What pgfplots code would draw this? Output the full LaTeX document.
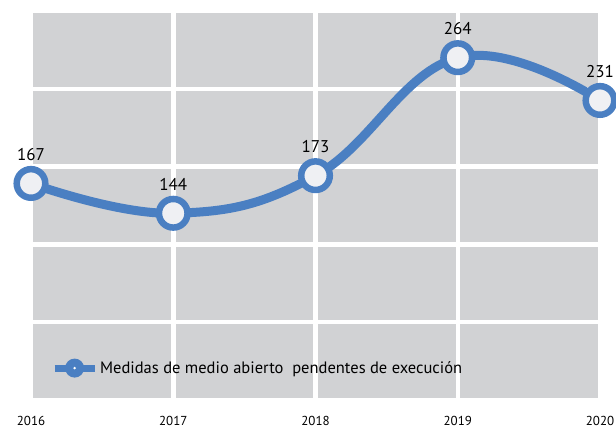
\documentclass[border=0pt]{standalone}
\usepackage{pgfplots}
\pgfplotsset{compat=1.18}
\usepackage{fontspec}
\setmainfont{PT Sans}
\definecolor{bg}{HTML}{D1D2D4}
\definecolor{ln}{HTML}{4A7FC2}
\definecolor{mk}{HTML}{EFF0F3}
\begin{document}
\begin{tikzpicture}[x=1pt,y=1pt]
\clip (0,0) rectangle (616,427);
\begin{axis}[
  scale only axis, width=569pt, height=389pt,
  anchor=south west, at={(31pt,27pt)},
  xmin=2016, xmax=2020, ymin=0, ymax=300,
  xtick={2016,2017,2018,2019,2020}, ytick={0,60,...,300},
  yticklabels={},
  xticklabel style={font=\fontsize{13}{13}\selectfont, yshift=-13pt, /pgf/number format/1000 sep={}},
  /pgf/number format/assume math mode=true,
  axis background/.style={fill=bg},
  axis line style={draw=none},
  major tick length=0pt,
  grid=major, grid style={white, line width=4.5pt},
  clip=false,
  legend style={at={(0.035,0.082)}, anchor=west, draw=none, fill=none,
    font=\fontsize{16.5}{16.5}\selectfont, inner sep=0pt},
]
\addplot[ln, line width=9pt, smooth, tension=0.7, mark=*, mark size=14.3pt,
  mark options={fill=mk, draw=ln, line width=6.5pt},
  nodes near coords, point meta=explicit symbolic, forget plot,
  every node near coord/.append style={font=\fontsize{17}{17}\selectfont, black, anchor=south, inner sep=0pt, yshift=19.5pt}]
  coordinates {(2016,167)[167] (2017,144)[144] (2018,173)[173] (2019,264)[264] (2020,231)[231]};
\addlegendimage{no markers, legend image code/.code={
    \path[draw=ln, line width=7pt] (0pt,0pt) -- (40pt,0pt);
    \path[fill=ln, draw=none] (20pt,0pt) circle[radius=9.5pt];
    \path[fill=white, draw=none] (20pt,0pt) circle[radius=1.4pt];
  }}
\addlegendentry{Medidas de medio abierto~ pendentes de execución}
\end{axis}
\end{tikzpicture}
\end{document}
